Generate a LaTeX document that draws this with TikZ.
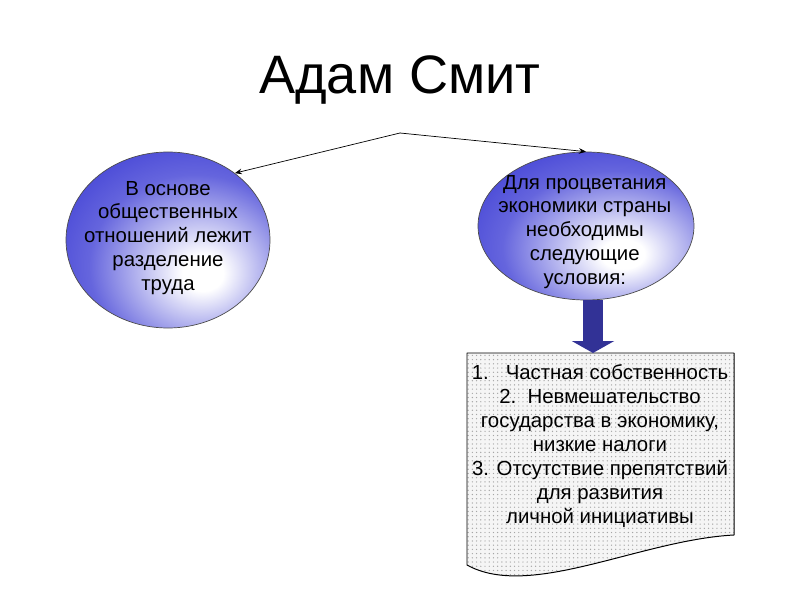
\documentclass[tikz,border=0pt]{standalone}
\usepackage{fontspec}
\setmainfont{Liberation Sans}
\usetikzlibrary{shapes.geometric,arrows.meta,patterns}

\definecolor{orbblue}{RGB}{50,50,210}
\definecolor{arrowblue}{RGB}{50,50,150}
\pgfdeclareradialshading{orb}{\pgfpoint{9bp}{-10bp}}{color(0bp)=(white); color(5bp)=(white); color(26bp)=(orbblue!75); color(44bp)=(orbblue); color(100bp)=(orbblue)}

\begin{document}
\begin{tikzpicture}[line cap=round,line join=round,
  orb/.style={ellipse,draw=black!70,line width=0.5pt,shading=orb,inner sep=0pt},
  orbtext/.style={align=center,inner sep=0pt,font=\fontsize{14.5}{17}\selectfont},
  doctext/.style={align=center,inner sep=0pt,font=\fontsize{14.5}{17}\selectfont},
  bigarrow/.style={line width=0.5cm,draw=arrowblue,line cap=butt,-{Triangle[width=1.05cm,length=0.3cm]}}]
  \useasboundingbox (0,0) rectangle (20,15);
  \node (title) at (10,13.0) {\fontsize{38.5}{46}\selectfont Адам Смит};
  % two ovals
  \node[orb,minimum width=5.1cm,minimum height=4.4cm] (left) at (4.2,9.0) {};
  \node[orbtext] (lefttext) at (4.2,9.05)
    {В основе\\общественных\\отношений лежит\\разделение\\труда};
  \node[orb,minimum width=5.4cm,minimum height=3.7cm] (right) at (14.65,9.35) {};
  \node[orbtext] (righttext) at (14.62,9.2)
    {Для процветания\\экономики страны\\необходимы\\следующие\\условия:};
  \coordinate (apex) at (10,11.675);
  \draw[-{Stealth[length=5pt,width=4pt]},line width=0.5pt] (apex) -- (left.45);
  \draw[-{Stealth[length=5pt,width=4pt]},line width=0.5pt] (apex) -- (right.north);
  % document shape
  \draw[line width=0.7pt,preaction={fill=black!4},pattern=dots,pattern color=black!35]
    (11.675,6.175) -- (18.35,6.175) -- (18.35,1.625)
    .. controls (16,1.5) and (13.25,0) .. (11.675,0.875) -- cycle;
  \coordinate (doctop) at (14.825,6.175);
  \node[doctext] (doc) at (15.0,3.85)
    {1.\ \ \ Частная собственность\\2.\ \ Невмешательство\\государства в экономику,\\низкие налоги\\3. Отсутствие препятствий\\для развития\\личной инициативы};
  \draw[bigarrow] (right.south -| doctop) -- (doctop);
\end{tikzpicture}
\end{document}
